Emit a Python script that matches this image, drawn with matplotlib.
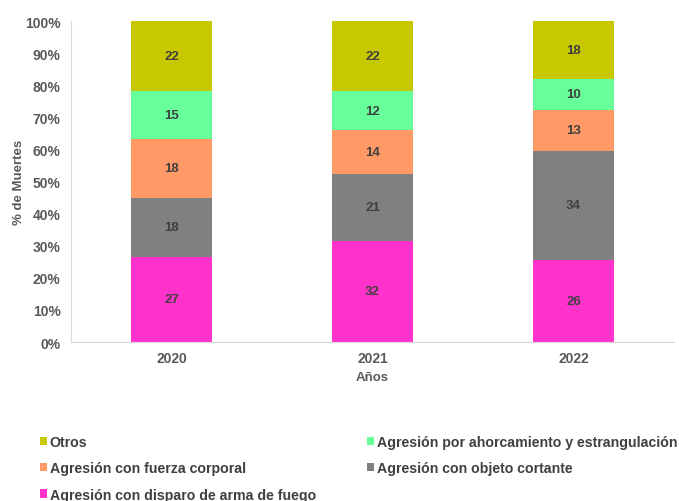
import numpy as np
import matplotlib
matplotlib.use("Agg")
import matplotlib.pyplot as plt
from matplotlib.ticker import PercentFormatter

plt.rcParams["font.family"] = ["Liberation Sans", "DejaVu Sans"]
plt.rcParams["font.weight"] = "bold"

years = ["2020", "2021", "2022"]

categories = [
    "Agresión con disparo de arma de fuego",
    "Agresión con objeto cortante",
    "Agresión con fuerza corporal",
    "Agresión por ahorcamiento y estrangulación",
    "Otros",
]

# porcentaje de muertes por causa (de abajo hacia arriba)
disparo = [26.6, 31.6, 25.7]
cortante = [18.4, 20.9, 33.8]
fuerza = [18.4, 13.6, 12.9]
ahorcamiento = [14.8, 12.0, 9.7]
otros = [21.8, 21.9, 17.9]

series = [disparo, cortante, fuerza, ahorcamiento, otros]
colors = ["#FF33CC", "#808080", "#FF9966", "#66FF99", "#C8C800"]

fig = plt.figure(figsize=(6.79, 5.02), dpi=100)
ax = fig.add_axes([0.1046, 0.3167, 0.8880, 0.6393])

x = np.arange(len(years))
bottom = np.zeros(len(years))
handles = {}
for name, vals, col in zip(categories, series, colors):
    vals = np.array(vals)
    bars = ax.bar(x, vals, 0.4, bottom=bottom, color=col, label=name)
    handles[name] = bars
    for xi, b, v in zip(x, bottom, vals):
        ax.text(xi, b + v / 2, f"{v:.0f}", ha="center", va="center",
                fontsize=9.5, fontweight="bold", color="#404040")
    bottom += vals

ax.set_xlim(-0.5, 2.5)
ax.set_ylim(0, 100)
ax.set_yticks(np.arange(0, 101, 10))
ax.yaxis.set_major_formatter(PercentFormatter(decimals=0))
ax.set_xticks(x)
ax.set_xticklabels(years)
ax.tick_params(length=0, labelsize=10, labelcolor="#595959")
ax.tick_params(axis="x", pad=6.5)
ax.tick_params(axis="y", pad=7.5)
for lab in ax.get_xticklabels() + ax.get_yticklabels():
    lab.set_fontweight("bold")

for s in ["top", "right"]:
    ax.spines[s].set_visible(False)
for s in ["left", "bottom"]:
    ax.spines[s].set_color("#D9D9D9")

ax.set_xlabel("Años", fontsize=9.5, fontweight="bold", color="#595959", labelpad=4)
ax.set_ylabel("% de Muertes", fontsize=9.5, fontweight="bold", color="#595959", labelpad=0)

order = ["Otros", "Agresión con fuerza corporal",
         "Agresión con disparo de arma de fuego",
         "Agresión por ahorcamiento y estrangulación",
         "Agresión con objeto cortante"]
leg = fig.legend([handles[n] for n in order], order, ncol=2, frameon=False,
                 loc="upper left", bbox_to_anchor=(0.04, 0.156),
                 fontsize=10.2, handlelength=0.5, handleheight=0.5,
                 handletextpad=0.2, columnspacing=3.6, labelspacing=0.85)
for t in leg.get_texts():
    t.set_color("#404040")
    t.set_fontweight("bold")

fig.savefig("out.png", dpi=100)
